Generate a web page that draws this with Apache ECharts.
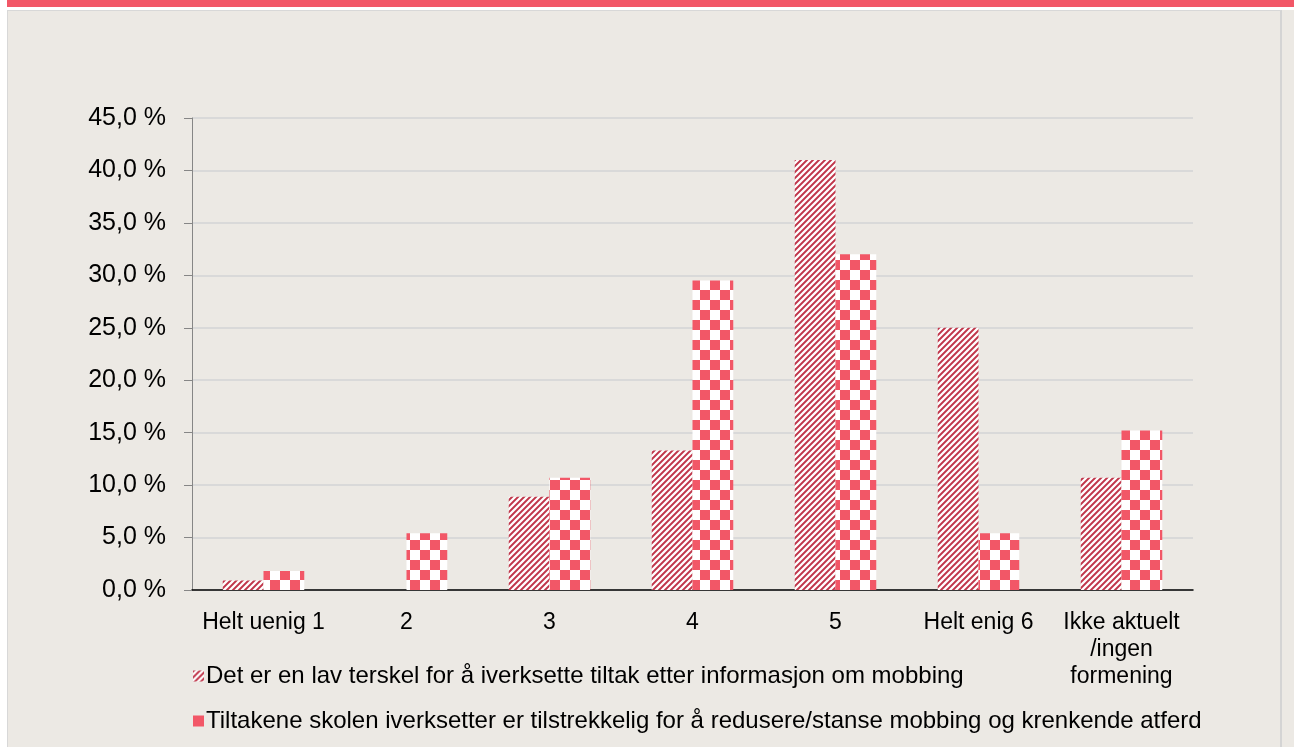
<!DOCTYPE html>
<html>
<head>
<meta charset="utf-8">
<script src="https://cdn.jsdelivr.net/npm/echarts@6/dist/echarts.min.js"></script>
<style>
    html, body { margin: 0; padding: 0; background: #fff; }
    #header { position: absolute; left: 7px; top: 0; width: 1287px; height: 7px; background: #f25767; }
    #panel { position: absolute; left: 7px; top: 10px; width: 1272px; height: 737px; background: #ece9e4;
             border-left: 1px solid #d8d8d8; border-top: 1px solid #d8d8d8; border-right: 2px solid #d4d4d4; }
    #rest { position: absolute; left: 1282px; top: 10px; width: 12px; height: 737px; background: #ece9e4; }
    #chart { position: absolute; left: 0; top: 0; width: 1294px; height: 747px; }
</style>
</head>
<body>
<div id="header"></div>
<div id="panel"></div>
<div id="rest"></div>
<div id="chart"></div>
<script>
// data
const categories = ['Helt uenig 1', '2', '3', '4', '5', 'Helt enig 6', 'Ikke aktuelt\n/ingen\nformening'];
const seriesNames = [
    'Det er en lav terskel for å iverksette tiltak etter informasjon om mobbing',
    'Tiltakene skolen iverksetter er tilstrekkelig for å redusere/stanse mobbing og krenkende atferd'
];
const lavTerskel = [0.9, 0, 8.9, 13.3, 41.0, 25.0, 10.7];
const tilstrekkelig = [1.8, 5.4, 10.7, 29.5, 32.0, 5.4, 15.2];
const yTicks = [0, 5, 10, 15, 20, 25, 30, 35, 40, 45];

// skravert mønster (diagonale striper)
const stripeCanvas = () => {
    const c = document.createElement('canvas');
    const n = 6;
    c.width = n; c.height = n;
    const ctx = c.getContext('2d');
    const img = ctx.createImageData(n, n);
    const dark = [192, 54, 74], light = [255, 255, 255];
    for (let y = 0; y < n; y++) {
        for (let x = 0; x < n; x++) {
            const t = Math.min(1, Math.max(0, 0.45 + 0.75 * Math.cos(2 * Math.PI * (x + y) / n)));
            const i = (y * n + x) * 4;
            for (let k = 0; k < 3; k++) img.data[i + k] = Math.round(dark[k] * t + light[k] * (1 - t));
            img.data[i + 3] = 255;
        }
    }
    ctx.putImageData(img, 0, 0);
    return c;
};

// rutemønster
const checkerCanvas = () => {
    const c = document.createElement('canvas');
    c.width = 20; c.height = 20;
    const ctx = c.getContext('2d');
    ctx.fillStyle = '#ffffff';
    ctx.fillRect(0, 0, 20, 20);
    ctx.fillStyle = '#f25767';
    ctx.fillRect(10, 0, 10, 10);
    ctx.fillRect(0, 10, 10, 10);
    return c;
};

const stripes = stripeCanvas();
const fmt = (v) => v.toFixed(1).replace('.', ',') + ' %';

const chartInstance = echarts.init(document.getElementById('chart'));
chartInstance.setOption({
    backgroundColor: 'transparent',
    animation: false,
    textStyle: { fontFamily: '"Liberation Sans", Arial, sans-serif' },
    grid: { left: 192, right: 101, top: 118, bottom: 157, containLabel: false },
    legend: {
        orient: 'vertical',
        left: 188,
        top: 659,
        itemWidth: 11,
        itemHeight: 11,
        itemGap: 21,
        icon: 'rect',
        textStyle: { fontSize: 24, color: '#000', lineHeight: 24, padding: [0, 0, 0, -3] },
        data: [
            { name: seriesNames[0], itemStyle: { color: { image: stripes, repeat: 'repeat' } } },
            { name: seriesNames[1], itemStyle: { color: '#f25767' } }
        ]
    },
    xAxis: {
        type: 'category',
        data: categories,
        axisLine: { lineStyle: { color: '#000', width: 1.5 } },
        axisTick: { show: false },
        axisLabel: { color: '#000', fontSize: 23, margin: 19, lineHeight: 27, interval: 0 }
    },
    yAxis: {
        type: 'value',
        min: yTicks[0],
        max: yTicks[yTicks.length - 1],
        interval: yTicks[1] - yTicks[0],
        axisLine: { show: true, lineStyle: { color: '#868686', width: 1 } },
        axisTick: { show: true, length: 8, lineStyle: { color: '#868686' } },
        axisLabel: { color: '#000', fontSize: 25, margin: 26, formatter: fmt },
        splitLine: { lineStyle: { color: '#d9d9d9', width: 2 } }
    },
    series: [
        {
            name: seriesNames[0],
            type: 'bar',
            data: lavTerskel,
            barGap: '0%',
            barCategoryGap: '43%',
            itemStyle: { color: { image: stripes, repeat: 'repeat' } }
        },
        {
            name: seriesNames[1],
            type: 'bar',
            data: tilstrekkelig,
            barGap: '0%',
            barCategoryGap: '43%',
            itemStyle: { color: { image: checkerCanvas(), repeat: 'repeat' } }
        }
    ]
});
</script>
</body>
</html>
